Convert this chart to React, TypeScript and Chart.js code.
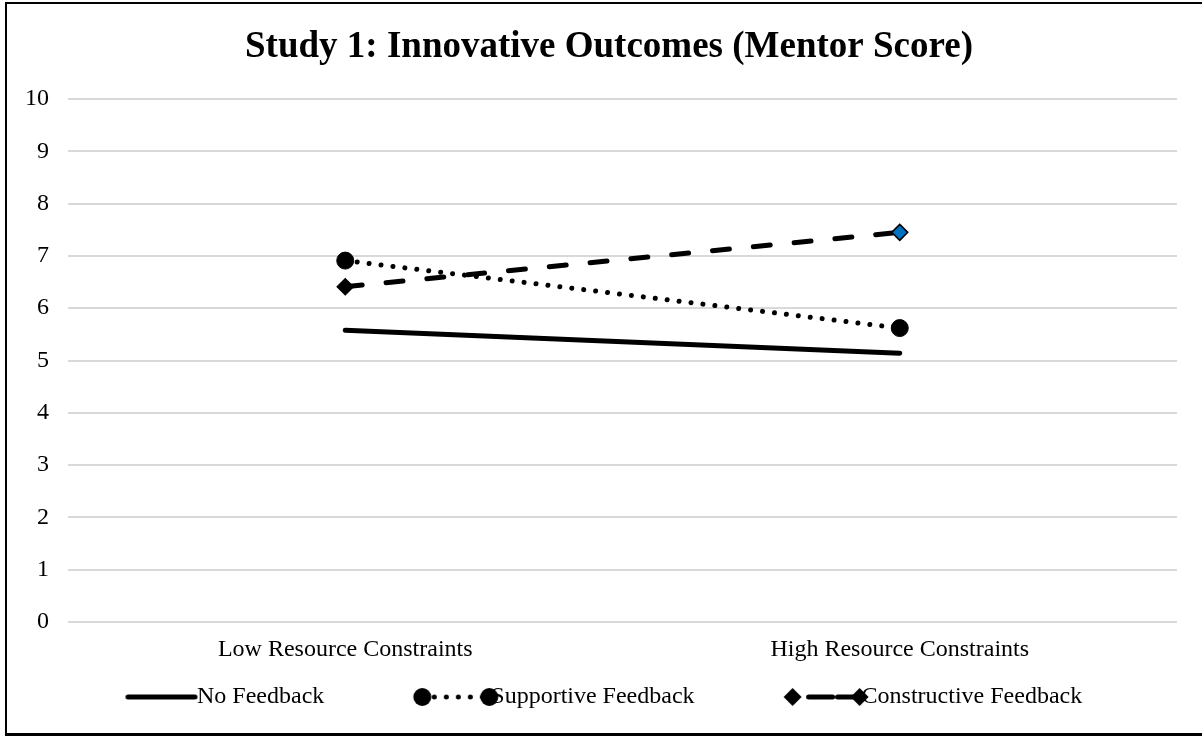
import React, { useEffect, useRef } from "react";
import { Chart, registerables } from "chart.js";

Chart.register(...registerables);

const categories = ["Low Resource Constraints", "High Resource Constraints"];
const seriesNames = ["No Feedback", "Supportive Feedback", "Constructive Feedback"];
const noFeedback = [5.58, 5.14];
const supportive = [6.91, 5.62];
const constructive = [6.41, 7.45];
const yMin = 0;
const yMax = 10;
const yStep = 1;

const FONT = "'Liberation Serif', 'Times New Roman', serif";
const FS = 24;
const BW = 143; // legend box width (includes spacing before the sample)
const LINE_START = 86;
const LINE_END = 153;
const ICON_W = 184;
const ICON_H = 26;

function makeIcon(kind: number): HTMLCanvasElement {
  const c = document.createElement("canvas");
  c.width = ICON_W;
  c.height = ICON_H;
  const ctx = c.getContext("2d")!;
  const off = ICON_W / 2 - BW / 2;
  const x0 = LINE_START + off;
  const x1 = LINE_END + off;
  const y = ICON_H / 2;
  ctx.strokeStyle = "#000";
  ctx.fillStyle = "#000";
  ctx.lineWidth = 5;
  ctx.lineCap = "round";
  if (kind === 0) {
    ctx.beginPath();
    ctx.moveTo(x0, y);
    ctx.lineTo(x1, y);
    ctx.stroke();
  } else if (kind === 1) {
    ctx.setLineDash([0.01, 12]);
    ctx.beginPath();
    ctx.moveTo(x0, y);
    ctx.lineTo(x1, y);
    ctx.stroke();
    ctx.setLineDash([]);
    for (const cx of [x0, x1]) {
      ctx.beginPath();
      ctx.arc(cx, y, 9, 0, Math.PI * 2);
      ctx.fill();
    }
  } else {
    ctx.beginPath();
    ctx.moveTo(x0 + 16, y);
    ctx.lineTo(x0 + 40, y);
    ctx.stroke();
    ctx.beginPath();
    ctx.moveTo(x1 - 22, y);
    ctx.lineTo(x1, y);
    ctx.stroke();
    for (const cx of [x0, x1]) {
      ctx.beginPath();
      ctx.moveTo(cx - 9, y);
      ctx.lineTo(cx, y - 9);
      ctx.lineTo(cx + 9, y);
      ctx.lineTo(cx, y + 9);
      ctx.closePath();
      ctx.fill();
    }
  }
  return c;
}

const placementPlugin = {
  id: "placement",
  afterLayout(chart: any) {
    if (chart.legend) {
      chart.legend.left = 30;
    }
    if (chart.titleBlock) {
      chart.titleBlock.left = 16;
      chart.titleBlock.right = 1202;
    }
  },
};

export default function App() {
  const ref = useRef<HTMLCanvasElement | null>(null);

  useEffect(() => {
    if (!ref.current) return;
    const icons = [makeIcon(0), makeIcon(1), makeIcon(2)];
    const chart = new Chart(ref.current, {
      type: "line",
      data: {
        labels: categories,
        datasets: [
          {
            label: seriesNames[0],
            data: noFeedback,
            borderColor: "#000",
            borderWidth: 5,
            borderCapStyle: "round",
            pointRadius: 0,
            pointHoverRadius: 0,
          },
          {
            label: seriesNames[1],
            data: supportive,
            borderColor: "#000",
            borderWidth: 5,
            borderCapStyle: "round",
            borderDash: [0.01, 12],
            pointStyle: "circle",
            pointRadius: 8.5,
            pointBackgroundColor: "#000",
            pointBorderColor: "#000",
            pointBorderWidth: 1,
          },
          {
            label: seriesNames[2],
            data: constructive,
            borderColor: "#000",
            borderWidth: 5,
            borderCapStyle: "round",
            borderDash: [17, 24],
            pointStyle: "rectRot",
            pointRadius: 8,
            pointBackgroundColor: ["#000", "#0070C0"],
            pointBorderColor: "#000",
            pointBorderWidth: 1.5,
          },
        ],
      },
      options: {
        responsive: false,
        animation: false,
        events: [],
        devicePixelRatio: 1,
        layout: { padding: { left: 0, right: 25, top: 0, bottom: 17 } },
        plugins: {
          tooltip: { enabled: false },
          title: {
            display: true,
            text: "Study 1: Innovative Outcomes (Mentor Score)",
            color: "#000",
            font: { family: FONT, size: 37, weight: "bold", lineHeight: 1.2 },
            padding: { top: 25, bottom: 29.6 },
          },
          legend: {
            display: true,
            position: "bottom",
            align: "start",
            labels: {
              usePointStyle: true,
              pointStyleWidth: BW,
              boxWidth: BW,
              padding: 12,
              color: "#000",
              font: { family: FONT, size: FS },
              generateLabels: () =>
                seriesNames.map((name, i) => ({
                  text: name,
                  pointStyle: icons[i],
                  fillStyle: "#000",
                  strokeStyle: "#000",
                  lineWidth: 0,
                  hidden: false,
                  datasetIndex: i,
                  fontColor: "#000",
                })),
            },
          },
        },
        scales: {
          x: {
            type: "category",
            offset: true,
            grid: { display: false, drawTicks: false },
            border: { display: false },
            ticks: {
              color: "#000",
              padding: 13.6,
              font: { family: FONT, size: FS },
              maxRotation: 0,
            },
            afterFit: (s: any) => {
              s.height = 51;
            },
          },
          y: {
            min: yMin,
            max: yMax,
            grid: { color: "#d9d9d9", lineWidth: 2, drawTicks: false },
            border: { display: false },
            ticks: {
              stepSize: yStep,
              color: "#000",
              padding: 19,
              font: { family: FONT, size: FS },
            },
            afterFit: (s: any) => {
              s.width = 68;
            },
          },
        },
      },
      plugins: [placementPlugin],
    });
    return () => chart.destroy();
  }, []);

  return (
    <div
      style={{
        position: "fixed",
        left: 0,
        top: 0,
        width: 1202,
        height: 736,
        overflow: "hidden",
        background: "#fff",
      }}
    >
      <canvas
        ref={ref}
        width={1202}
        height={736}
        style={{ position: "absolute", left: 0, top: 0, width: 1202, height: 736, display: "block" }}
      />
      <div
        style={{
          position: "absolute",
          left: 5,
          top: 2,
          width: 1300,
          height: 734,
          boxSizing: "border-box",
          borderLeft: "2.5px solid #000",
          borderTop: "2px solid #000",
          borderBottom: "3px solid #000",
          pointerEvents: "none",
        }}
      />
    </div>
  );
}
